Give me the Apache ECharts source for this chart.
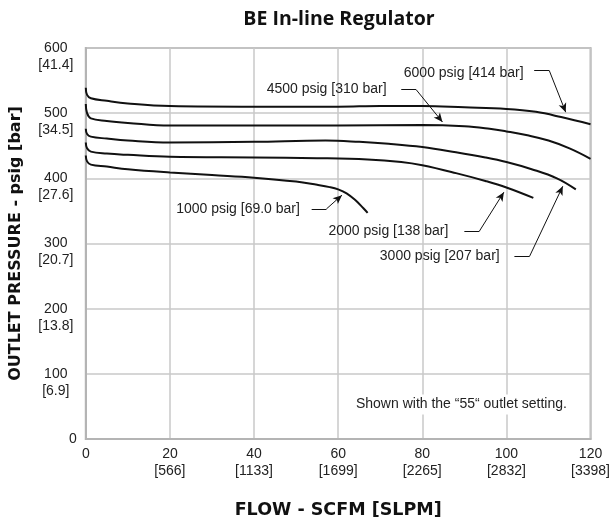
<!DOCTYPE html>
<html>
<head>
<meta charset="utf-8">
<script src="https://cdn.jsdelivr.net/npm/echarts@6/dist/echarts.min.js"></script>
<style>
  html, body { margin: 0; padding: 0; background: #fff; }
  #main { width: 613px; height: 524px; }
</style>
</head>
<body>
<div id="main"></div>
<script>
  // outlet pressure (psig) vs flow (scfm)
  const curveNames = ['6000 psig [414 bar]', '4500 psig [310 bar]', '3000 psig [207 bar]', '2000 psig [138 bar]', '1000 psig [69.0 bar]']
  const flow6000 = [[0, 539], [0.3, 528], [1.2, 523], [5, 519], [10, 515], [20, 511], [40, 510], [60, 510], [70, 511], [80, 511], [90, 509], [100, 506.5], [107, 502], [113, 494], [120, 483]]
  const flow4500 = [[0, 514], [0.3, 500], [1.2, 492], [5, 488], [10, 485], [20, 481], [40, 481], [60, 481], [80, 482], [90, 480], [96, 476], [100, 472], [105, 466], [110, 458], [115, 446], [120, 430]]
  const flow3000 = [[0, 476], [0.3, 468], [1.2, 464], [5, 461], [10, 458], [20, 455], [40, 456], [57, 458], [65, 456], [72, 453], [80, 448], [88, 440], [95, 432], [100, 425], [106, 414], [112, 400], [116.5, 383]]
  const flow2000 = [[0, 455], [0.3, 446], [1.2, 441], [5, 438], [10, 436], [20, 433], [40, 432], [55, 431], [67, 429], [75, 425], [80, 420], [88, 408], [95, 396], [100, 386], [106.4, 370]]
  const flow1000 = [[0, 435], [0.3, 426], [1.2, 421], [5, 418], [10, 414], [20, 409], [30, 405], [40, 401], [50, 395], [55, 390], [58, 386.5], [60, 383], [62, 377], [64, 367], [66, 354], [67, 347]]
  const curves = [flow6000, flow4500, flow3000, flow2000, flow1000]

  // tick labels
  const psigTicks = [0, 100, 200, 300, 400, 500, 600]
  const barTicks = ['', '[6.9]', '[13.8]', '[20.7]', '[27.6]', '[34.5]', '[41.4]']
  const scfmTicks = [0, 20, 40, 60, 80, 100, 120]
  const slpmTicks = ['', '[566]', '[1133]', '[1699]', '[2265]', '[2832]', '[3398]']

  // callout placement in data units: label right end, then leader polyline
  const callouts = [
    { label: [104.1, 562], leader: [[106.6, 565.2], [110.2, 565.2], [114.1, 501.5]] },
    { label: [71.5, 536.4], leader: [[75.0, 536.4], [78.5, 536.4], [84.8, 486.4]] },
    { label: [98.4, 280.3], leader: [[101.9, 280.3], [105.5, 280.3], [113.4, 387.9]] },
    { label: [86.2, 318.2], leader: [[90.0, 318.2], [93.5, 318.2], [99.4, 378.8]] },
    { label: [50.9, 353], leader: [[53.7, 353], [57.2, 353], [60.9, 374.2]] }
  ]
  const note = { text: 'Shown with the “55“ outlet setting.', at: [89.3, 53] }

  const textFont = 'Liberation Sans'
  const gridColor = '#c8c8c8'
  const frameColor = '#b4b4b4'

  let myechart = echarts.init(document.getElementById('main'))

  let series = curves.map((d, i) => {
    let c = callouts[i]
    let points = [{ coord: c.label }]
    if (i === curves.length - 1) {
      points.push({
        coord: note.at,
        label: {
          position: 'inside', formatter: note.text, backgroundColor: '#fff', padding: [3, 4]
        }
      })
    }
    return {
      name: curveNames[i],
      type: 'line',
      data: d,
      showSymbol: false,
      smooth: 0.4,
      silent: true,
      lineStyle: { color: '#111', width: 2 },
      markPoint: {
        symbol: 'circle',
        symbolSize: 0,
        silent: true,
        animation: false,
        label: {
          show: true, position: 'left', distance: 0, formatter: curveNames[i],
          color: '#222', fontSize: 14, fontFamily: textFont
        },
        data: points
      },
      markLine: {
        silent: true,
        animation: false,
        symbol: ['none', 'none'],
        label: { show: false },
        lineStyle: { color: '#111', width: 1, type: 'solid' },
        data: [
          [{ coord: c.leader[0] }, { coord: c.leader[1] }],
          [{ coord: c.leader[1] }, { coord: c.leader[2], symbol: 'arrow', symbolSize: [6, 9] }]
        ]
      }
    }
  })

  let option = {
    animation: false,
    title: {
      text: 'BE In-line Regulator',
      left: 334,
      textAlign: 'center',
      top: 4,
      textStyle: { fontFamily: 'Open Sans', fontWeight: 'bold', fontSize: 19.5, color: '#111' }
    },
    grid: {
      left: 83, right: 18, top: 48, bottom: 80,
      show: true, borderColor: frameColor, borderWidth: 2
    },
    xAxis: {
      type: 'value',
      min: 0, max: 120, interval: 20,
      name: 'FLOW - SCFM [SLPM]',
      nameLocation: 'middle',
      nameGap: 62,
      nameTextStyle: { fontFamily: 'DejaVu Sans', fontWeight: 'bold', fontSize: 17.5, color: '#111' },
      axisLine: { lineStyle: { color: frameColor, width: 2 } },
      axisTick: { show: false },
      splitLine: { lineStyle: { color: gridColor, width: 1.5 } },
      axisLabel: {
        margin: 7,
        fontSize: 14,
        lineHeight: 17,
        color: '#222',
        fontFamily: textFont,
        formatter: v => {
          let k = scfmTicks.indexOf(v)
          return k <= 0 ? String(v) : v + '\n' + slpmTicks[k]
        }
      }
    },
    yAxis: {
      type: 'value',
      min: 0, max: 600, interval: 100,
      name: 'OUTLET PRESSURE - psig [bar]',
      nameLocation: 'middle',
      nameGap: 57,
      nameTextStyle: { fontFamily: 'DejaVu Sans', fontWeight: 'bold', fontSize: 16, color: '#111' },
      axisLine: { show: true, lineStyle: { color: frameColor, width: 2 } },
      axisTick: { show: false },
      splitLine: { lineStyle: { color: gridColor, width: 1.5 } },
      axisLabel: {
        margin: 30,
        align: 'center',
        fontSize: 14,
        lineHeight: 17,
        color: '#222',
        fontFamily: textFont,
        formatter: v => {
          let k = psigTicks.indexOf(v)
          return k <= 0 ? '{z|0}' : '\n' + v + '\n' + barTicks[k]
        },
        rich: {
          z: { fontSize: 14, fontFamily: textFont, color: '#222', padding: [0, 0, 0, 34] }
        }
      }
    },
    series: series
  }
  myechart.setOption(option)
</script>
</body>
</html>
